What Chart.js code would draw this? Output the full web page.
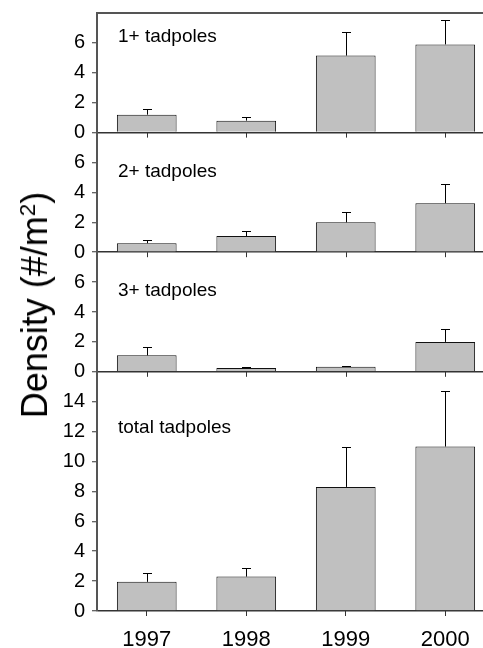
<!DOCTYPE html>
<html><head><meta charset="utf-8">
<script src="https://cdn.jsdelivr.net/npm/chart.js@4/dist/chart.umd.min.js"></script>
<style>
html,body{margin:0;padding:0;background:#fff;overflow:hidden;}
#wrap{position:relative;width:500px;height:648px;}
#ytitle{position:absolute;left:35px;top:305px;transform:translate(-50%,-50%) rotate(-90deg);font-family:'Liberation Sans',Arial,sans-serif;font-size:36px;white-space:nowrap;color:#000;line-height:1;}
#ytitle sup{font-size:0.62em;vertical-align:0.55em;line-height:0;}
</style></head><body>
<div id="wrap"><canvas id="c" width="500" height="648"></canvas><div id="ytitle">Density (#/m<sup>2</sup>)</div></div>
<script>
// ---- data ----
const years = ['1997', '1998', '1999', '2000'];
const panelNames = ['1+ tadpoles', '2+ tadpoles', '3+ tadpoles', 'total tadpoles'];
const onePlus = [1.2, 0.8, 5.15, 5.9];
const onePlusErr = [0.4, 0.25, 1.55, 1.6];
const twoPlus = [0.6, 1.08, 2.0, 3.28];
const twoPlusErr = [0.22, 0.35, 0.67, 1.3];
const threePlus = [1.1, 0.25, 0.33, 2.0];
const threePlusErr = [0.55, 0.07, 0.08, 0.85];
const total = [1.95, 2.3, 8.3, 11.0];
const totalErr = [0.57, 0.6, 2.7, 3.7];
const smallTicks = [0, 2, 4, 6];
const totalTicks = [0, 2, 4, 6, 8, 10, 12, 14];
const smallMax = 8;
const totalMax = 16;

// ---- style ----
const FONT = "'Liberation Sans', Arial, sans-serif";
const axisColor = '#555';
const baseColor = '#333';
const tickColor = '#333';
const labelAt = {y1: 6.05, y2: 5.0, y3: 5.1, y4: 11.9};

function yAxis(max, ticks, weight, stackWeight) {
  return {
    type: 'linear', position: 'left', stack: 'panels', stackWeight: stackWeight, weight: weight,
    min: 0, max: max,
    afterBuildTicks: s => { s.ticks = ticks.map(v => ({value: v})); },
    afterFit: s => { s.width = 97; s.paddingTop = 0; s.paddingBottom = 0; },
    border: {display: true, color: axisColor, width: 2},
    grid: {
      drawOnChartArea: true, drawTicks: true, tickLength: 5,
      color: c => (c.tick && c.tick.value === 0) ? baseColor : 'rgba(0,0,0,0)',
      lineWidth: 1.5, tickColor: tickColor, tickWidth: 1
    },
    ticks: {color: '#000', font: {family: FONT, size: 20}, padding: 7, autoSkip: false}
  };
}

const barStyle = {
  backgroundColor: '#c0c0c0', borderColor: '#111', borderWidth: 1,
  grouped: false, barPercentage: 0.6, categoryPercentage: 1
};

const decor = {
  id: 'decor',
  beforeDatasetsDraw(chart) {
    const ctx = chart.ctx, ca = chart.chartArea, y1 = chart.scales.y1;
    ctx.save();
    ctx.strokeStyle = axisColor; ctx.lineWidth = 2;
    ctx.beginPath(); ctx.moveTo(ca.left, y1.top); ctx.lineTo(ca.right, y1.top); ctx.stroke();
    ctx.restore();
  },
  afterDatasetsDraw(chart) {
    const ctx = chart.ctx, ca = chart.chartArea, xs = chart.scales.x;
    ctx.save();
    chart.data.datasets.forEach((ds, i) => {
      const meta = chart.getDatasetMeta(i);
      const ys = chart.scales[ds.yAxisID];
      ctx.strokeStyle = '#000'; ctx.lineWidth = 1;
      meta.data.forEach((bar, j) => {
        const top = ys.getPixelForValue(ds.data[j]);
        const hi = ys.getPixelForValue(ds.data[j] + ds.err[j]);
        const x = Math.round(bar.x) + 0.5;
        ctx.beginPath();
        ctx.moveTo(x, top); ctx.lineTo(x, Math.round(hi) + 0.5);
        ctx.moveTo(x - 4.5, Math.round(hi) + 0.5); ctx.lineTo(x + 4.5, Math.round(hi) + 0.5);
        ctx.stroke();
      });
      if (ds.yAxisID !== 'y4') {
        const y0 = ys.getPixelForValue(0);
        ctx.strokeStyle = tickColor;
        xs.ticks.forEach((t, k) => {
          const px = Math.round(xs.getPixelForTick(k)) + 0.5;
          ctx.beginPath(); ctx.moveTo(px, y0); ctx.lineTo(px, y0 + 5); ctx.stroke();
        });
      }
      ctx.fillStyle = '#000';
      ctx.font = '19px ' + FONT;
      ctx.textBaseline = 'alphabetic';
      ctx.textAlign = 'left';
      ctx.fillText(ds.label, ca.left + 21, ys.getPixelForValue(labelAt[ds.yAxisID]));
    });
    ctx.restore();
  }
};

new Chart(document.getElementById('c'), {
  type: 'bar',
  data: {
    labels: years,
    datasets: [
      Object.assign({label: panelNames[0], data: onePlus, err: onePlusErr, yAxisID: 'y1'}, barStyle),
      Object.assign({label: panelNames[1], data: twoPlus, err: twoPlusErr, yAxisID: 'y2'}, barStyle),
      Object.assign({label: panelNames[2], data: threePlus, err: threePlusErr, yAxisID: 'y3'}, barStyle),
      Object.assign({label: panelNames[3], data: total, err: totalErr, yAxisID: 'y4'}, barStyle)
    ]
  },
  options: {
    responsive: false, animation: false, devicePixelRatio: 1,
    layout: {padding: {left: 0, top: 13, right: 5, bottom: 0}},
    plugins: {legend: {display: false}, tooltip: {enabled: false}},
    scales: {
      x: {
        type: 'category', position: 'bottom', offset: true,
        grid: {display: true, drawOnChartArea: false, drawTicks: true, tickLength: 5, offset: false, color: tickColor},
        border: {display: false},
        ticks: {color: '#000', font: {family: FONT, size: 22}, padding: 11, maxRotation: 0, autoSkip: false},
        afterFit: s => { s.height = 37; s.paddingLeft = 0; s.paddingRight = 0; }
      },
      y1: yAxis(smallMax, smallTicks, 4, 1),
      y2: yAxis(smallMax, smallTicks, 3, 1),
      y3: yAxis(smallMax, smallTicks, 2, 1),
      y4: yAxis(totalMax, totalTicks, 1, 2)
    }
  },
  plugins: [decor]
});
</script>
</body></html>
